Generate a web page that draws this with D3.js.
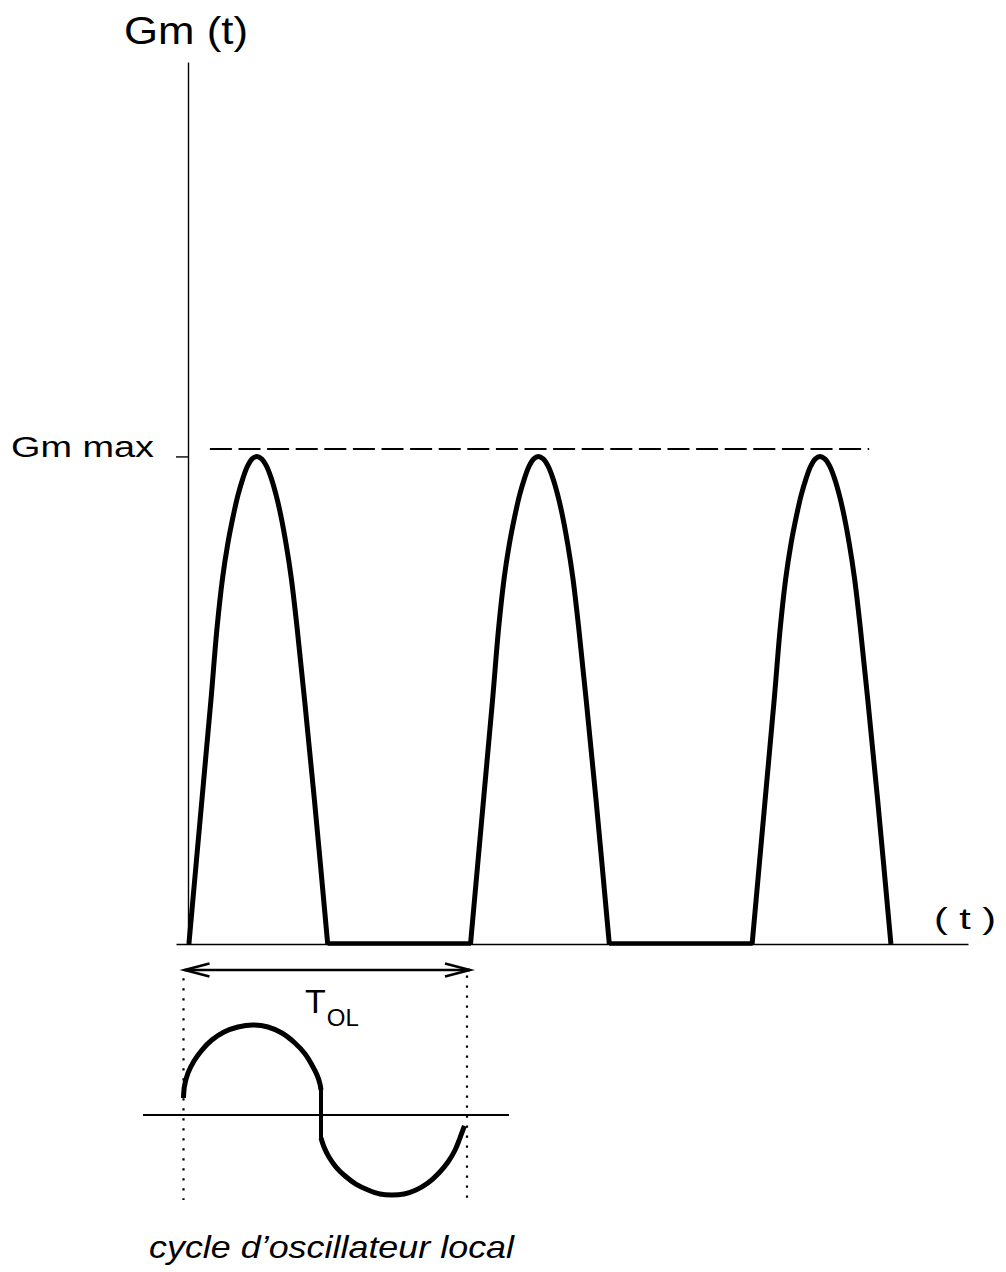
<!DOCTYPE html>
<html>
<head>
<meta charset="utf-8">
<script src="https://cdn.jsdelivr.net/npm/d3@7"></script>
<style>
  html, body { margin: 0; padding: 0; background: #fff; }
  svg { display: block; }
  text { font-family: "Liberation Sans", Arial, Helvetica, sans-serif; fill: #000; }
</style>
</head>
<body>
<svg id="chart" width="1006" height="1272"></svg>
<script>
// ---- Data ----
// Transconductance over one local-oscillator period (t in periods, Gm normalised to Gm max)
const archProfile = [
  [0.0014, 0.000], [0.0483, 0.300], [0.0796, 0.500], [0.1016, 0.650], [0.1208, 0.750],
  [0.1392, 0.820], [0.1577, 0.875], [0.1754, 0.920], [0.1932, 0.955], [0.2095, 0.980],
  [0.2259, 0.995], [0.2422, 1.000], [0.2596, 0.995], [0.2770, 0.980], [0.2940, 0.955],
  [0.3114, 0.920], [0.3292, 0.875], [0.3466, 0.820], [0.3651, 0.750], [0.3853, 0.650],
  [0.4123, 0.500], [0.4464, 0.300], [0.4943, 0.000]
];
// Start of each conduction cycle (in periods)
const cycleStarts = [0, 1, 2];
// Off intervals where Gm stays at zero
const offIntervals = [[0.494, 1.003], [1.494, 2.003]];
const gmMax = 1;
const gmMaxGuide = 1.015;
const guideSpan = [0.076, 2.417];

// Local oscillator waveform over one cycle (u in periods, v in amplitude units)
const loUpper = [
  [0.000, 0.189], [0.0035, 0.322], [0.016, 0.467], [0.037, 0.600], [0.065, 0.722],
  [0.100, 0.833], [0.143, 0.922], [0.192, 0.978], [0.245, 1.000], [0.298, 0.978],
  [0.347, 0.911], [0.393, 0.800], [0.429, 0.678], [0.453, 0.556], [0.471, 0.444],
  [0.4815, 0.344], [0.485, 0.278]
];
const loLower = [
  [0.485, -0.256], [0.4956, -0.356], [0.513, -0.467], [0.538, -0.578], [0.570, -0.678],
  [0.608, -0.767], [0.651, -0.833], [0.693, -0.878], [0.735, -0.889], [0.778, -0.878],
  [0.820, -0.833], [0.862, -0.756], [0.901, -0.644], [0.933, -0.522], [0.958, -0.389],
  [0.975, -0.256], [0.991, -0.122]
];
const loAxisSpan = [-0.143, 1.148];
const loMarkers = [[0, 1.52, -0.944], [1, 1.55, -1.0]];

const yTitle = "Gm (t)";
const xTitle = "( t )";
const gmMaxLabel = "Gm max";
const periodSymbol = "T";
const periodSub = "OL";
const caption = "cycle d\u2019oscillateur local";

// ---- Scales ----
const svg = d3.select("#chart");
const x = d3.scaleLinear().domain([-0.0444, 2.768]).range([176, 968]);
const y = d3.scaleLinear().domain([0, 1.809]).range([944, 62]);

const u = d3.scaleLinear().domain([0, 1]).range([183.5, 467]);
const v = d3.scaleLinear().domain([-1, 1]).range([1205, 1025]);

// ---- Axes ----
const yAxis = d3.axisLeft(y).tickValues([gmMax]).tickSize(12).tickSizeOuter(0).tickFormat("");
const gy = svg.append("g").attr("transform", `translate(${x(0) - 0.5},0)`).call(yAxis);
gy.selectAll("path, line").attr("stroke", "#000").attr("stroke-width", 1.4);

const xAxis = d3.axisBottom(x).tickValues([]).tickSizeOuter(0);
const gx = svg.append("g").attr("transform", `translate(0,${y(0)})`).call(xAxis);
gx.select("path").attr("stroke", "#000").attr("stroke-width", 1.6);

// Gm max guide
svg.append("line")
  .attr("x1", x(guideSpan[0])).attr("x2", x(guideSpan[1]))
  .attr("y1", y(gmMaxGuide)).attr("y2", y(gmMaxGuide))
  .attr("stroke", "#000").attr("stroke-width", 2)
  .attr("stroke-dasharray", "22 6.6");

// ---- Gm(t) arches ----
const archLine = d3.line()
  .x(d => x(d[0])).y(d => y(d[1]))
  .curve(d3.curveCatmullRom.alpha(0.5));

svg.append("g").selectAll("path.arch")
  .data(cycleStarts)
  .join("path")
  .attr("class", "arch")
  .attr("d", c => archLine(archProfile.map(p => [p[0] + c, p[1]])))
  .attr("fill", "none").attr("stroke", "#000")
  .attr("stroke-width", 5).attr("stroke-linejoin", "round");

svg.append("g").selectAll("line.off")
  .data(offIntervals)
  .join("line")
  .attr("class", "off")
  .attr("x1", d => x(d[0])).attr("x2", d => x(d[1]))
  .attr("y1", y(0) - 0.5).attr("y2", y(0) - 0.5)
  .attr("stroke", "#000").attr("stroke-width", 4.5);

// ---- Labels ----
svg.append("text").attr("x", 124).attr("y", 44)
  .attr("font-size", 39).attr("textLength", 124).attr("lengthAdjust", "spacingAndGlyphs")
  .text(yTitle);

svg.append("text").attr("x", 11).attr("y", 457)
  .attr("font-size", 30).attr("textLength", 143).attr("lengthAdjust", "spacingAndGlyphs")
  .text(gmMaxLabel);

svg.append("text").attr("x", 934).attr("y", 929)
  .attr("font-size", 30).attr("textLength", 62).attr("lengthAdjust", "spacingAndGlyphs")
  .text(xTitle);

// ---- Period arrow ----
const arrowY = 970;
const ga = svg.append("g").attr("fill", "none").attr("stroke", "#000").attr("stroke-width", 2.5);
ga.append("line").attr("x1", u(0) + 1).attr("x2", u(1) + 3).attr("y1", arrowY).attr("y2", arrowY);
ga.append("polyline").attr("points", [[u(0) + 26, arrowY - 6.5], [u(0) + 1, arrowY], [u(0) + 26, arrowY + 6.5]].join(" "));
ga.append("polyline").attr("points", [[u(1) - 22, arrowY - 6.5], [u(1) + 3, arrowY], [u(1) - 22, arrowY + 6.5]].join(" "));

const tl = svg.append("text").attr("x", 305).attr("y", 1013);
tl.append("tspan").attr("font-size", 34).text(periodSymbol);
tl.append("tspan").attr("font-size", 24).attr("dx", 1).attr("dy", 13).text(periodSub);

// ---- Local oscillator cycle ----
svg.append("line")
  .attr("x1", u(loAxisSpan[0])).attr("x2", u(loAxisSpan[1]))
  .attr("y1", v(0)).attr("y2", v(0))
  .attr("stroke", "#000").attr("stroke-width", 1.8);

svg.append("g").selectAll("line.marker")
  .data(loMarkers)
  .join("line")
  .attr("class", "marker")
  .attr("x1", d => u(d[0])).attr("x2", d => u(d[0]))
  .attr("y1", d => v(d[1])).attr("y2", d => v(d[2]))
  .attr("stroke", "#000").attr("stroke-width", 2.2)
  .attr("stroke-dasharray", "2.2 7.8");

const loLine = d3.line()
  .x(d => u(d[0])).y(d => v(d[1]))
  .curve(d3.curveCatmullRom.alpha(0.5));

const gw = svg.append("g").attr("fill", "none").attr("stroke", "#000").attr("stroke-width", 5);
gw.append("path").attr("d", loLine(loUpper));
gw.append("path").attr("d", d3.line().x(d => u(d[0])).y(d => v(d[1]))([loUpper[loUpper.length - 1], loLower[0]]))
  .attr("stroke-width", 4).attr("stroke-linecap", "round");
gw.append("path").attr("d", loLine(loLower));

svg.append("text").attr("x", 149).attr("y", 1258)
  .attr("font-size", 32).attr("font-style", "italic")
  .attr("textLength", 365).attr("lengthAdjust", "spacingAndGlyphs")
  .text(caption);
</script>
</body>
</html>
